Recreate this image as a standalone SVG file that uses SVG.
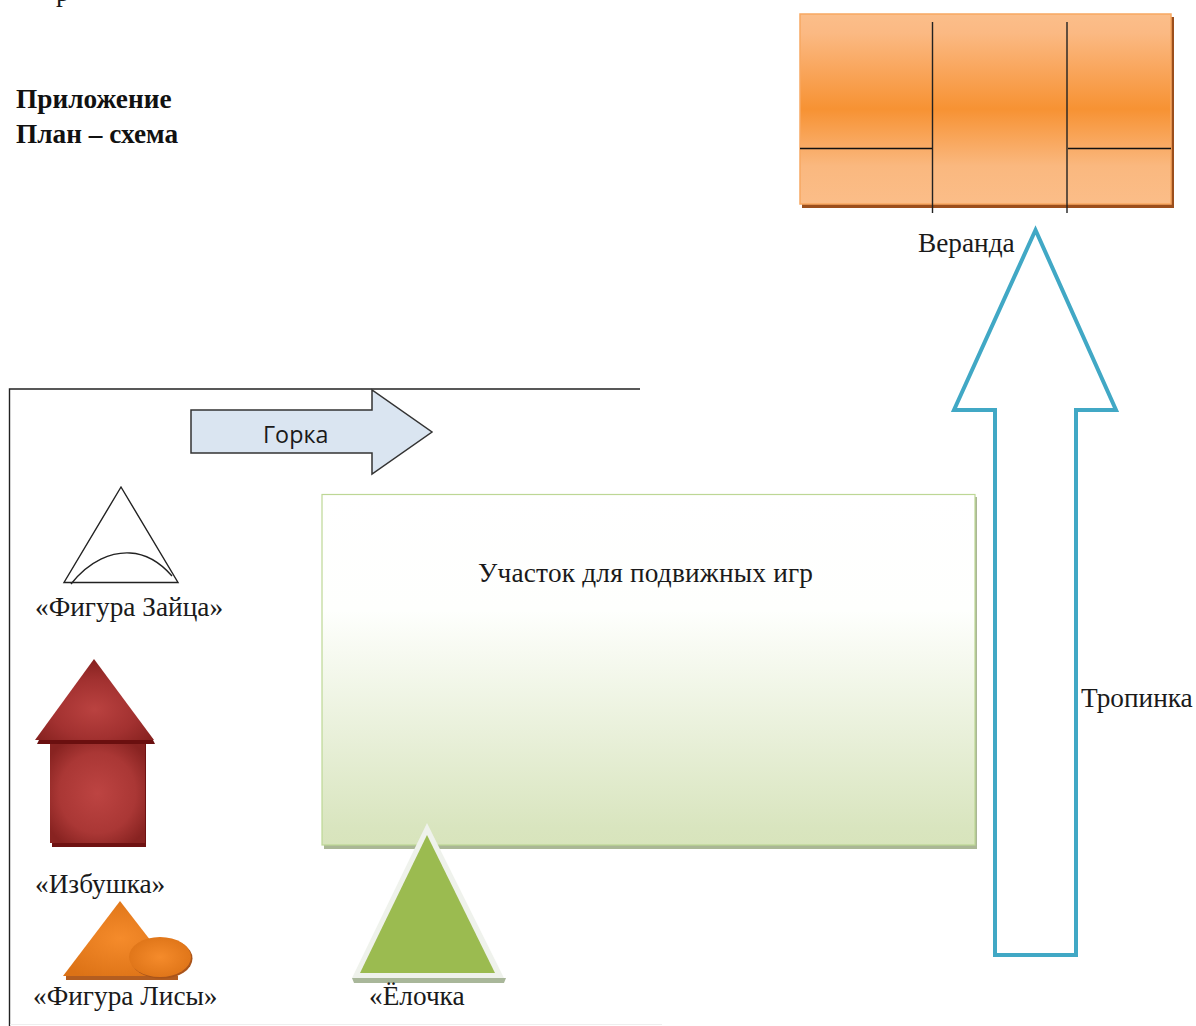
<svg xmlns="http://www.w3.org/2000/svg" width="1196" height="1026" viewBox="0 0 1196 1026">
<style>
text{font-family:"Liberation Serif","Noto Serif",serif;font-size:27.300px;fill:#1a1a1a}
.b{font-weight:bold;fill:#111}
.ln{stroke:#222;stroke-width:1.400;fill:none}
</style>
<defs>
<linearGradient id="org" x1="0" y1="0" x2="0" y2="1"><stop offset="0" stop-color="#fbbe8a"/><stop offset="0.1" stop-color="#fbb983"/><stop offset="0.5" stop-color="#f79233"/><stop offset="0.8" stop-color="#fab87f"/><stop offset="1" stop-color="#fbbd88"/></linearGradient>
<linearGradient id="grn" x1="0" y1="0" x2="0" y2="1"><stop offset="0" stop-color="#fff"/><stop offset="0.33" stop-color="#fefffd"/><stop offset="0.95" stop-color="#d9e5bf"/><stop offset="1" stop-color="#d8e4bc"/></linearGradient>
<radialGradient id="red" cx="0.5" cy="0.5" r="0.62"><stop offset="0" stop-color="#bd4442"/><stop offset="0.65" stop-color="#aa3735"/><stop offset="1" stop-color="#882321"/></radialGradient>
<radialGradient id="redT" cx="0.5" cy="0.62" r="0.6"><stop offset="0" stop-color="#ba4240"/><stop offset="0.6" stop-color="#a23130"/><stop offset="1" stop-color="#872220"/></radialGradient>
<radialGradient id="fox" cx="0.5" cy="0.5" r="0.6"><stop offset="0" stop-color="#f58b2b"/><stop offset="1" stop-color="#dc7216"/></radialGradient>
</defs>
<g id="connectors">
<path class="ln" d="M640 389H9.500V1026"/>
<path d="M10 1024.500H662" stroke="#eee" stroke-width="1" fill="none"/>
</g>
<g id="header">
<text x="56" y="1">р</text>
<text class="b" x="16" y="108">Приложение</text>
<text class="b" x="16" y="143">План – схема</text>
</g>
<g id="veranda">
<rect x="802" y="17" width="372" height="191" fill="#9c4f1c"/>
<rect x="800" y="14" width="371" height="190" fill="url(#org)" stroke="#f8a861" stroke-width="1.500"/>
<path class="ln" d="M932.500 22V213M1067 22V213"/>
<path d="M800 148.500H932M1068 148.500H1171" stroke="#111" stroke-width="1.400" fill="none"/>
<text x="918" y="252">Веранда</text>
</g>
<g id="path-arrow">
<path d="M1035.500 230L1116 410H1076V955H995V410H954Z" fill="#fff" stroke="#41a8c5" stroke-width="4"/>
<text x="1081" y="707">Тропинка</text>
</g>
<g id="gorka">
<path d="M191 410H372V390L432 432L372 474V453H191Z" fill="#dae5f1" stroke="#333" stroke-width="1.500"/>
<text x="263" y="443" style="font-family:'Open Sans','Liberation Sans',sans-serif;font-size:23.300px">Горка</text>
</g>
<g id="playground">
<rect x="324" y="497" width="653" height="352" fill="#aab795"/>
<rect x="322" y="494.500" width="653" height="350.500" fill="url(#grn)" stroke="#bdd795" stroke-width="1.200"/>
<text x="478" y="582" textLength="335">Участок для подвижных игр</text>
</g>
<g id="hare">
<path d="M121 487L178 582.500H64Z" fill="#fff" stroke="#222" stroke-width="1.400"/>
<path d="M71 584C90 560 112 552 130 553C150 554 165 568 172 576" fill="none" stroke="#222" stroke-width="1.400"/>
<text x="35" y="616">«Фигура Зайца»</text>
</g>
<g id="hut">
<rect x="52" y="744" width="94" height="103" fill="#6f1212"/>
<rect x="50" y="743" width="95" height="100" fill="url(#red)"/>
<path d="M37 744H155L152 738H40Z" fill="#6a0f0f"/>
<path d="M94 659L154 740H35Z" fill="url(#redT)"/>
<text x="35" y="893">«Избушка»</text>
</g>
<g id="fox">
<path d="M66 980H178V976H66Z" fill="#b35d20"/>
<path d="M120 901L178 976H63Z" fill="url(#fox)"/>
<ellipse cx="161.500" cy="958.500" rx="31" ry="20" fill="#a9541a"/>
<ellipse cx="160" cy="957" rx="31" ry="20" fill="url(#fox)"/>
<text x="33" y="1005">«Фигура Лисы»</text>
</g>
<g id="tree">
<path d="M352 978H506L504 983H354Z" fill="#a9b79a"/>
<path d="M427 823L504 978H352Z" fill="#eff2ec"/>
<path d="M427 835L495 973H360Z" fill="#9bbb50"/>
<text x="369" y="1005">«Ёлочка</text>
</g>
</svg>
